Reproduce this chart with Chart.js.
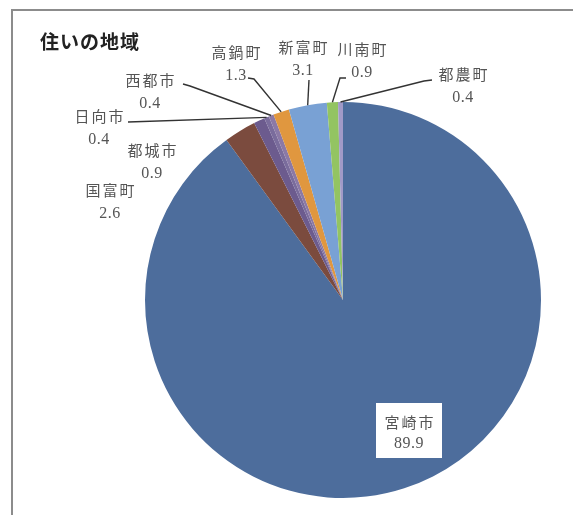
<!DOCTYPE html>
<html>
<head>
<meta charset="utf-8">
<script src="https://cdn.jsdelivr.net/npm/chart.js@4/dist/chart.umd.min.js"></script>
<style>
    body { margin: 0; background: #fff; overflow: hidden; }
</style>
</head>
<body>
<canvas id="pie" width="573" height="515"></canvas>
<script>
const title = '住いの地域'
const areas = ['宮崎市', '国富町', '都城市', '日向市', '西都市', '高鍋町', '新富町', '川南町', '都農町']
const shares = [89.9, 2.6, 0.9, 0.4, 0.4, 1.3, 3.1, 0.9, 0.4]
const colors = ['#4d6d9c', '#7b4b3e', '#6c5b8e', '#7a6c9c', '#8b79a6', '#e0973f', '#79a1d4', '#93c462', '#a19ac7']

// label centres, relative to the pie centre
const labelPos = [[66, 122], [-233, -110], [-191, -150], [-244, -184], [-193, -220], [-107, -248], [-40, -253], [19, -251], [120, -226]]
// leader line points (label side), relative to the pie centre; the arc end is added in the plugin
const leaders = [null, null, null,
    [[-215, -178]],
    [[-160, -216], [-153, -214]],
    [[-95, -222], [-89, -221]],
    [[-34, -220]],
    [[3, -222], [-3, -222]],
    [[89, -220], [81, -219]]]

const labelPlugin = {
    id: 'labels',
    beforeDraw(chart){
        const ctx = chart.ctx
        ctx.save()
        ctx.fillStyle = '#fff'
        ctx.fillRect(0, 0, chart.width, chart.height)
        ctx.strokeStyle = '#8c8c8c'
        ctx.lineWidth = 2
        ctx.beginPath()
        ctx.moveTo(12, chart.height)
        ctx.lineTo(12, 10)
        ctx.lineTo(chart.width + 5, 10)
        ctx.stroke()
        ctx.restore()
    },
    afterDraw(chart){
        const ctx = chart.ctx
        const arcs = chart.getDatasetMeta(0).data
        ctx.save()

        ctx.fillStyle = '#222'
        ctx.font = 'bold 19px "Noto Sans CJK JP"'
        ctx.letterSpacing = '1px'
        ctx.textAlign = 'left'
        ctx.textBaseline = 'middle'
        ctx.fillText(title, 40, 42)

        arcs.forEach((arc, i) => {
            const cx = arc.x, cy = arc.y
            const mid = (arc.startAngle + arc.endAngle) / 2
            const ax = cx + Math.cos(mid) * arc.outerRadius
            const ay = cy + Math.sin(mid) * arc.outerRadius
            const lx = cx + labelPos[i][0], ly = cy + labelPos[i][1]

            if (leaders[i]){
                ctx.strokeStyle = '#333'
                ctx.lineWidth = 1.4
                ctx.beginPath()
                leaders[i].forEach((p, k) => {
                    if (k == 0) ctx.moveTo(cx + p[0], cy + p[1])
                    else ctx.lineTo(cx + p[0], cy + p[1])
                })
                ctx.lineTo(ax, ay)
                ctx.stroke()
            }

            let gap = 24
            if (i == 0){
                // white box behind the big slice's label
                ctx.fillStyle = '#fff'
                ctx.fillRect(lx - 33, ly - 19, 66, 55)
                gap = 22
            }

            ctx.fillStyle = '#555'
            ctx.textAlign = 'center'
            ctx.letterSpacing = '2px'
            ctx.font = '15px "Noto Sans CJK JP"'
            ctx.fillText(areas[i], lx + 1, ly)
            ctx.letterSpacing = '0.5px'
            ctx.font = '16px "Liberation Serif"'
            ctx.fillText(shares[i].toFixed(1), lx, ly + gap)
        })
        ctx.restore()
    }
}

new Chart(document.querySelector('#pie'), {
    type: 'pie',
    data: {
        labels: areas,
        datasets: [{
            data: shares,
            backgroundColor: colors,
            borderWidth: 0
        }]
    },
    options: {
        responsive: false,
        animation: false,
        layout: { padding: { left: 145, right: 32, top: 102, bottom: 17 } },
        plugins: {
            legend: { display: false },
            tooltip: { enabled: false }
        }
    },
    plugins: [labelPlugin]
})
</script>
</body>
</html>
